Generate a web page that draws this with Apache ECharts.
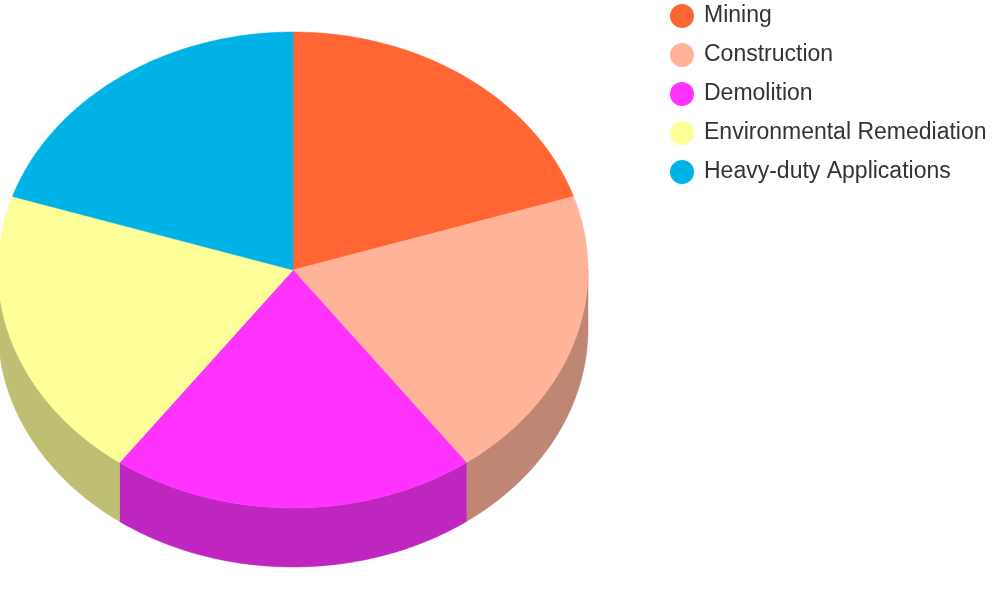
<!DOCTYPE html>
<html>
<head>
<meta charset="utf-8">
<script src="https://cdn.jsdelivr.net/npm/echarts@6/dist/echarts.min.js"></script>
<style>
html,body{margin:0;padding:0;background:#fff;}
#main{width:1000px;height:600px;}
</style>
</head>
<body>
<div id="main"></div>
<script>
const categories = ['Mining', 'Construction', 'Demolition', 'Environmental Remediation', 'Heavy-duty Applications'];
const values = [20, 20, 20, 20, 20];
const colors = ['#FF6633', '#FFB399', '#FF33FF', '#FFFF99', '#00B3E6'];

const layout = { cx: 293, cy: 270, rx: 295, ry: 238, depth: 59 };
const total = values.reduce((a, b) => a + b, 0);

function shade(hex, f) {
  const n = parseInt(hex.slice(1), 16);
  const r = Math.round(((n >> 16) & 255) * f);
  const g = Math.round(((n >> 8) & 255) * f);
  const b = Math.round((n & 255) * f);
  return 'rgb(' + r + ',' + g + ',' + b + ')';
}
function pt(a, dy) {
  const rad = a * Math.PI / 180;
  return [layout.cx + layout.rx * Math.cos(rad), layout.cy - layout.ry * Math.sin(rad) + (dy || 0)];
}
function arcPts(from, to, dy) {
  const pts = [];
  const steps = Math.max(2, Math.ceil(Math.abs(to - from) / 0.5));
  for (let k = 0; k <= steps; k++) pts.push(pt(from + (to - from) * k / steps, dy));
  return pts;
}

const series = categories.map((name, i) => ({
  type: 'custom',
  name: name,
  coordinateSystem: 'none',
  color: colors[i],
  data: [values[i]],
  renderItem: function (params, api) {
    const v = api.value(0);
    let cum = 0;
    for (let j = 0; j < i; j++) cum += values[j];
    const a0 = 90 - 360 * cum / total;
    const a1 = 90 - 360 * (cum + v) / total;
    const children = [];
    const s = Math.min(a0, 0), e = Math.max(a1, -180);
    if (s > e) {
      const top = arcPts(s, e, 0);
      const bot = arcPts(e, s, layout.depth);
      children.push({
        type: 'polygon',
        shape: { points: top.concat(bot) },
        style: { fill: shade(colors[i], 0.75), stroke: shade(colors[i], 0.75), lineWidth: 0.5 },
        z2: 1
      });
    }
    const face = [[layout.cx, layout.cy]].concat(arcPts(a0, a1, 0));
    children.push({
      type: 'polygon',
      shape: { points: face },
      style: { fill: colors[i], stroke: colors[i], lineWidth: 0.5 },
      z2: 2
    });
    return { type: 'group', children: children };
  }
}));

const chart = echarts.init(document.getElementById('main'));
chart.setOption({
  animation: false,
  backgroundColor: '#fff',
  legend: {
    orient: 'vertical',
    left: 670,
    top: 4,
    padding: 0,
    itemWidth: 24,
    itemHeight: 24,
    itemGap: 15,
    icon: 'circle',
    data: categories,
    textStyle: { fontSize: 23, lineHeight: 24, color: '#333', fontFamily: 'Liberation Sans, Arial, sans-serif', padding: [0, 0, 0, 5] }
  },
  series: series
});
</script>
</body>
</html>
